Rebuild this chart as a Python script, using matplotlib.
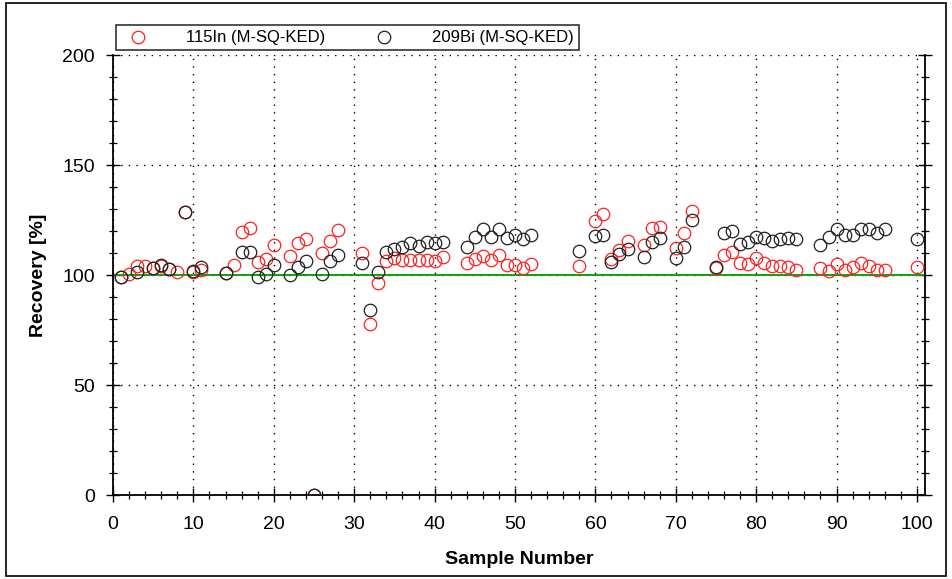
import matplotlib
matplotlib.use("Agg")
import matplotlib.pyplot as plt
from matplotlib.ticker import MultipleLocator
from matplotlib.patches import Rectangle

plt.rcParams['font.family'] = ['Liberation Sans', 'DejaVu Sans']

# Recovery of the internal standards per sample
in_samples = [1, 2, 3, 4, 5, 6, 7, 8, 9, 10, 11, 14, 15, 16, 17, 18, 19, 20,
              22, 23, 24, 25, 26, 27, 28, 31, 32, 33, 34, 35, 36, 37, 38, 39,
              40, 41, 44, 45, 46, 47, 48, 49, 50, 51, 52, 58, 60, 61, 62, 63,
              64, 66, 67, 68, 70, 71, 72, 75, 76, 77, 78, 79, 80, 81, 82, 83,
              84, 85, 88, 89, 90, 91, 92, 93, 94, 95, 96, 100]
in_recovery = [99.0, 100.5, 104.0, 104.0, 103.3, 104.3, 102.7, 101.2, 128.6, 101.5,
               102.5, 100.8, 104.5, 119.7, 121.5, 106.0, 107.3, 113.8,
               108.6, 114.4, 116.5, 0.0, 109.8, 115.5, 120.4, 109.8, 77.6, 96.2,
               106.4, 107.6, 107.0, 107.0, 107.0, 107.0,
               106.5, 108.0, 105.6, 107.3, 108.6, 107.0, 109.0, 104.5, 104.5, 103.0,
               105.0, 104.0, 124.5, 127.6, 107.5, 111.4,
               115.6, 113.6, 121.5, 122.0, 112.4, 119.0, 129.0, 103.3, 109.0, 110.6,
               105.6, 104.9, 107.6, 105.3, 104.3, 104.2,
               103.5, 102.3, 103.3, 101.8, 104.8, 102.3, 103.8, 105.4, 104.0, 102.3,
               102.3, 103.8]

bi_samples = [1, 3, 5, 6, 7, 9, 10, 11, 14, 16, 17, 18, 19, 20, 22, 23, 24, 25,
              26, 27, 28, 31, 32, 33, 34, 35, 36, 37, 38, 39, 40, 41, 44, 45,
              46, 47, 48, 49, 50, 51, 52, 58, 60, 61, 62, 63, 64, 66, 67, 68,
              70, 71, 72, 75, 76, 77, 78, 79, 80, 81, 82, 83, 84, 85, 88, 89,
              90, 91, 92, 93, 94, 95, 96, 100]
bi_recovery = [99.2, 101.5, 103.3, 104.5, 102.7, 128.6, 102.0, 103.8, 100.8, 110.6,
               110.6, 99.0, 100.6, 104.5, 99.8, 103.8, 106.5, 0.0,
               100.3, 106.4, 109.0, 105.3, 84.0, 101.2, 110.6, 112.0, 112.6, 114.4,
               113.0, 115.2, 114.4, 115.2, 112.6, 117.4,
               120.9, 117.4, 120.9, 117.0, 118.0, 116.4, 118.0, 111.0, 117.7, 118.2,
               106.0, 109.4, 111.7, 108.3, 115.2, 116.7,
               107.9, 112.9, 125.0, 103.8, 119.0, 120.2, 114.0, 115.2, 117.4, 116.7,
               115.6, 116.3, 116.7, 116.5, 113.6, 117.4,
               120.7, 118.2, 118.2, 120.7, 120.7, 119.2, 120.7, 116.4]

x_ticks = list(range(0, 101, 10))
y_ticks = [0, 50, 100, 150, 200]
target_recovery = 100

fig = plt.figure(figsize=(9.53, 5.79), dpi=100)
ax = fig.add_axes([113 / 953, 1 - 495 / 579, (925 - 113) / 953, (495 - 55) / 579])

ax.set_xlim(0, 101)
ax.set_ylim(0, 200)

ax.grid(True, which='major', color='black', linestyle=(0, (1, 4.5)), linewidth=1.0)
ax.axhline(target_recovery, color='#10a010', linewidth=1.4, zorder=2)

ax.plot(in_samples, in_recovery, linestyle='none', marker='o', markersize=9,
        markerfacecolor='none', markeredgecolor='#ff2020', markeredgewidth=0.9,
        label='115In (M-SQ-KED)', zorder=3, clip_on=True)
ax.plot(bi_samples, bi_recovery, linestyle='none', marker='o', markersize=9,
        markerfacecolor='none', markeredgecolor='#202020', markeredgewidth=0.9,
        label='209Bi (M-SQ-KED)', zorder=3, clip_on=True)

ax.set_xticks(x_ticks)
ax.set_yticks(y_ticks)
ax.xaxis.set_minor_locator(MultipleLocator(2))
ax.yaxis.set_minor_locator(MultipleLocator(10))
ax.tick_params(axis='both', which='major', direction='inout', length=10, width=1.0,
               labelsize=14, colors='black')
ax.tick_params(axis='both', which='minor', direction='inout', length=6, width=0.9)
ax.tick_params(axis='y', which='both', right=True)
ax.tick_params(axis='x', which='major', pad=10)
ax.tick_params(axis='y', which='major', pad=8)

for side in ['left', 'bottom', 'right']:
    ax.spines[side].set_linewidth(1.3)
ax.spines['top'].set_visible(False)

ax.set_xlabel('Sample Number', fontsize=14, fontweight='bold', labelpad=13)
ax.set_ylabel('Recovery [%]', fontsize=14, fontweight='bold', labelpad=11)

leg = fig.legend(loc='upper left', bbox_to_anchor=(108 / 953, 1 - 17 / 579), ncol=2,
                 fontsize=12, frameon=True, fancybox=False, edgecolor='black',
                 handletextpad=1.9, columnspacing=2.5, borderpad=0.3,
                 handlelength=2.0)
leg.get_frame().set_linewidth(1.2)

# outer frame around the figure
fig.patches.append(Rectangle((6 / 953, 3 / 579), (946 - 6) / 953, (576 - 3) / 579,
                             transform=fig.transFigure, fill=False,
                             edgecolor='black', linewidth=1.2))

fig.savefig('out.png', dpi=100)
